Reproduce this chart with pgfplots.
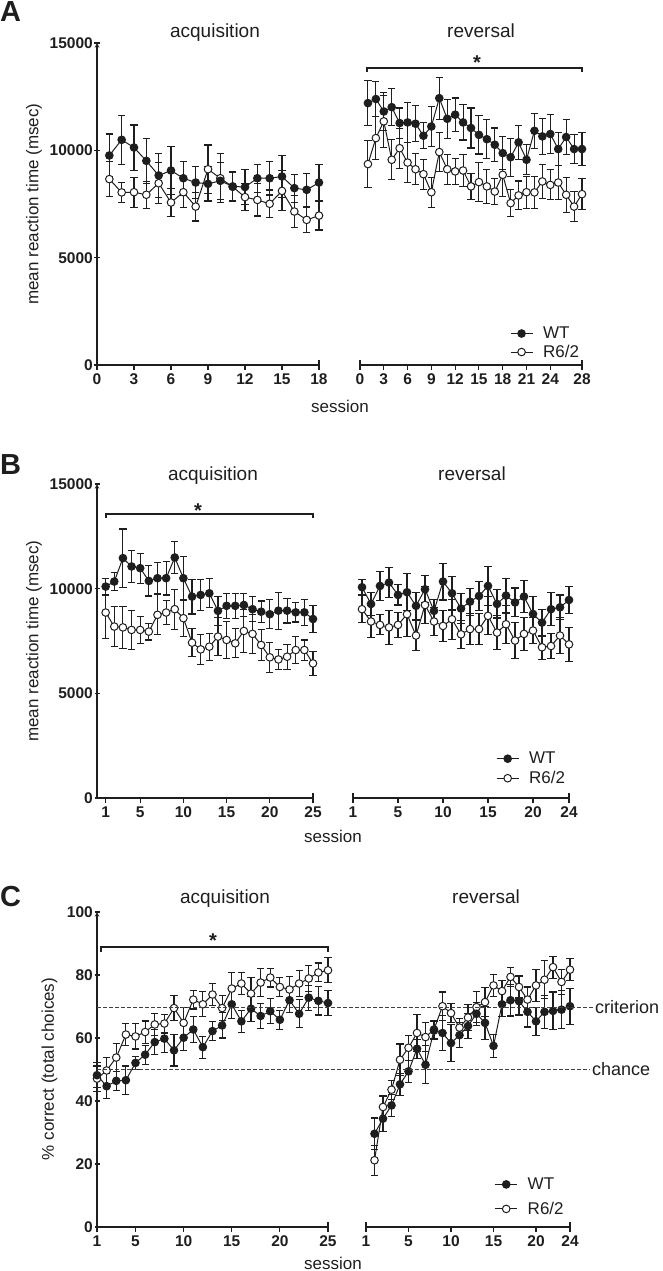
\documentclass[border=0pt]{standalone}
\usepackage{pgfplots}
\pgfplotsset{compat=1.18}
\usepackage{pgfplotstable}
\usepackage{fontspec}
\setmainfont{Liberation Sans}
\definecolor{ink}{RGB}{30,30,30}

\pgfplotstableread{
x w we r re
1 9760 1000 8660 800
2 10490 1150 8040 470
3 10130 1050 8050 700
4 9510 1050 7930 620
5 8830 1040 8470 960
6 9060 1100 7570 650
7 8700 800 8050 700
8 8500 750 7380 670
9 8440 800 9120 1130
10 8580 850 8700 1150
11 8320 700 8300 650
12 8290 800 7820 640
13 8700 650 7690 750
14 8700 780 7510 640
15 8780 960 8110 930
16 8240 650 7150 750
17 8160 780 6760 580
18 8500 850 6960 670
}\tabAacq

\pgfplotstableread{
x w we r re
1 12200 1060 9360 1090
2 12390 800 10570 1000
3 11810 900 11350 1200
4 12010 850 9560 930
5 11270 700 10100 930
6 11300 930 9430 930
7 11240 840 9120 730
8 10680 600 8890 700
9 11110 930 8050 700
10 12430 980 9920 900
11 11470 900 9120 700
12 11660 780 9020 620
13 11300 820 9060 750
14 11040 930 8320 600
15 10720 890 8520 900
16 10520 900 8320 780
17 10260 780 8080 620
18 9870 780 8860 1000
19 9680 890 7540 620
20 10370 780 7900 670
21 9560 700 8050 750
22 10910 820 8040 730
23 10650 850 8550 810
24 10760 900 8390 700
25 10060 750 8500 800
26 10620 810 7930 820
27 10060 670 7380 700
28 10060 750 7960 730
}\tabArev

\pgfplotstableread{
x w we r re
1 10100 400 8860 1250
2 10340 430 8190 960
3 11460 1390 8150 1000
4 11060 770 8030 930
5 10980 720 8030 640
6 10370 720 7950 400
7 10500 750 8750 960
8 10500 800 8860 590
9 11490 770 9020 960
10 10500 1040 8590 880
11 9620 830 7420 670
12 9700 750 7100 720
13 9780 690 7230 640
14 8940 700 7710 900
15 9180 600 7550 880
16 9180 600 7390 690
17 9220 560 7980 1040
18 9020 600 7840 930
19 8900 510 7310 720
20 8780 690 6720 720
21 8950 880 6620 480
22 8950 590 6750 600
23 8870 460 7070 640
24 8870 620 7070 480
25 8550 640 6430 560
}\tabBacq

\pgfplotstableread{
x w we r re
1 10070 350 9020 640
2 9270 540 8430 750
3 10130 690 8270 480
4 10290 720 8150 810
5 9700 480 8270 600
6 9830 880 8780 1070
7 9180 640 7760 720
8 9970 640 9220 880
9 8940 560 8430 670
10 10340 880 8220 750
11 9780 800 8540 960
12 9050 730 7820 670
13 9380 640 8070 730
14 9650 690 8070 730
15 10130 920 8700 910
16 9270 670 7900 800
17 9670 830 8300 910
18 9340 690 7520 850
19 9620 770 7840 800
20 8790 830 8000 610
21 8380 640 7200 580
22 9020 800 7260 590
23 9110 590 7760 850
24 9460 640 7340 800
}\tabBrev

\pgfplotstableread{
x w we r re
1 48.2 4 47.1 4
2 44.7 4 49.7 4
3 46.4 3 53.8 4.5
4 46.6 4.5 61.1 3.5
5 52.1 2 60.5 4
6 54.7 3 61.9 3.5
7 58.7 4 64.3 3.5
8 59.8 4.5 64.6 3
9 56.1 5 69.5 4
10 60.1 4 64.8 5
11 62.7 4 72.2 3
12 57.1 3.5 70.7 4
13 62.2 3 73.8 3.5
14 64.0 4 69.5 4
15 70.7 4.5 75.7 5
16 65.3 3.5 77.3 3.5
17 69.3 4 74.1 5
18 67.0 4 77.6 4.5
19 68.5 4 79.2 3
20 65.8 3 76.2 3
21 72.0 4 75.4 4
22 67.7 4.5 77.3 4
23 72.8 4 78.9 4
24 71.8 4.5 80.8 3
25 71.1 4 81.5 4
}\tabCacq

\pgfplotstableread{
x w we r re
1 29.6 5 21.2 4.8
2 34.4 4 38.1 3.5
3 38.6 3.5 43.6 3
4 45.3 3.5 53.1 5
5 49.4 3.5 56.9 4
6 56.6 3 61.6 6
7 51.5 6 60.3 4.5
8 62.4 3 62.7 3
9 61.6 5.5 70.1 4.5
10 58.4 5.8 67.9 3
11 60.9 4 63.3 3
12 63.8 4 66.5 4
13 67.7 3.7 69.8 5
14 64.8 5.3 71.4 4.5
15 57.5 3.7 76.7 3.5
16 70.7 4 74.9 3.5
17 72.0 5 79.4 3
18 71.7 4.4 76.2 3.5
19 68.3 4.8 72.2 4
20 65.3 4.4 76.7 5
21 68.3 5.3 78.5 6
22 68.6 6 82.5 3.5
23 69.0 6 77.8 4
24 70.1 5.7 81.7 3.5
}\tabCrev

\newcommand{\ttl}{\fontsize{19}{22}\selectfont}
\newcommand{\lbl}{\fontsize{17}{19}\selectfont}
\newcommand{\pl}{\bfseries\fontsize{29}{32}\selectfont}
\newcommand{\st}{\bfseries\fontsize{20}{22}\selectfont}

\pgfplotsset{
  base/.style={
    scale only axis, anchor=south west, clip=false, enlargelimits=false,
    scaled x ticks=false, scaled y ticks=false,
    axis x line=bottom,
    axis line style={-, line width=1.1pt, ink},
    tick align=outside, major tick length=5pt,
    tick style={line width=1.1pt, ink},
    xticklabel style={font=\bfseries\fontsize{15.5}{16}\selectfont, text=ink},
    yticklabel style={font=\bfseries\fontsize{15.5}{16}\selectfont, text=ink, inner sep=1.5pt},
    extra x tick style={tick align=center, major tick length=10pt},
    extra x tick labels={},
    reverse legend,
    legend cell align=left,
    legend image code/.code={\draw[mark repeat=2, mark phase=2, ##1] plot coordinates {(0pt,0pt) (11pt,0pt) (22pt,0pt)};},
  },
  leftax/.style={base, axis y line=left},
  rightax/.style={base, axis y line=none},
  leg/.style 2 args={legend style={draw=none, fill=none, at={(axis description cs:#1)}, anchor=north west,
    inner sep=0pt, row sep=#2, font=\lbl, text=ink, nodes={inner sep=1pt},
    /tikz/every odd column/.append style={column sep=9pt}}},
  wt/.style={ink, line width=1pt, mark=*, mark size=3.8pt,
    mark options={fill=ink, draw=ink, solid, line width=1pt},
    error bars/.cd, y dir=both, y explicit,
    error bar style={line width=1.1pt, ink},
    error mark options={rotate=90, mark size=3.6pt, line width=1.1pt, ink}},
  rt/.style={ink, line width=1pt, mark=*, mark size=3.8pt,
    mark options={fill=white, draw=ink, solid, line width=1pt},
    error bars/.cd, y dir=both, y explicit,
    error bar style={line width=1.1pt, ink},
    error mark options={rotate=90, mark size=3.6pt, line width=1.1pt, ink}},
}

\begin{document}
\begin{tikzpicture}
\path[use as bounding box] (0pt,0pt) rectangle (662pt,-1271pt);

% ---------------- Panel A ----------------
\begin{axis}[leftax, at={(97pt,-365pt)}, width=222pt, height=322pt,
  xmin=0, xmax=18, ymin=0, ymax=15000,
  xtick={0,3,6,9,12,15,18}, xticklabels={0,3,6,9,12,15,18},
  ytick={0,5000,10000,15000}, yticklabels={0,5000,10000,15000},
  extra x ticks={18}]
\addplot[rt] table[x=x, y=r, y error=re] {\tabAacq};
\addplot[wt] table[x=x, y=w, y error=we] {\tabAacq};
\end{axis}
\begin{axis}[rightax, at={(360pt,-365pt)}, width=222pt, height=322pt,
  xmin=0, xmax=28, ymin=0, ymax=15000,
  xtick={0,3,6,9,12,15,18,21,24,28}, xticklabels={0,3,6,9,12,15,18,21,24,28},
  extra x ticks={0,28},
  leg={0.675,0.122}{3pt}]
\addplot[rt] table[x=x, y=r, y error=re] {\tabArev};
\addlegendentry{R6/2}
\addplot[wt] table[x=x, y=w, y error=we] {\tabArev};
\addlegendentry{WT}
\end{axis}

% ---------------- Panel B ----------------
\begin{axis}[leftax, at={(97pt,-798pt)}, width=216pt, height=314pt,
  xmin=0, xmax=25, ymin=0, ymax=15000,
  xtick={1,5,10,15,20,25}, xticklabels={1,5,10,15,20,25},
  ytick={0,5000,10000,15000}, yticklabels={0,5000,10000,15000},
  extra x ticks={25}]
\addplot[rt] table[x=x, y=r, y error=re] {\tabBacq};
\addplot[wt] table[x=x, y=w, y error=we] {\tabBacq};
\end{axis}
\begin{axis}[rightax, at={(353pt,-798pt)}, width=216pt, height=314pt,
  xmin=0, xmax=24, ymin=0, ymax=15000,
  xtick={0,5,10,15,20,24}, xticklabels={1,5,10,15,20,24},
  extra x ticks={0,24},
  leg={0.662,0.150}{4pt}]
\addplot[rt] table[x=x, y=r, y error=re] {\tabBrev};
\addlegendentry{R6/2}
\addplot[wt] table[x=x, y=w, y error=we] {\tabBrev};
\addlegendentry{WT}
\end{axis}

% ---------------- Panel C ----------------
\begin{axis}[leftax, at={(97pt,-1227pt)}, width=231pt, height=315pt,
  xmin=1, xmax=25, ymin=0, ymax=100,
  xtick={1,5,10,15,20,25}, xticklabels={1,5,10,15,20,25},
  ytick={0,20,40,60,80,100}, yticklabels={0,20,40,60,80,100},
  extra x ticks={25}]
\addplot[rt] table[x=x, y=r, y error=re] {\tabCacq};
\addplot[wt] table[x=x, y=w, y error=we] {\tabCacq};
\end{axis}
\begin{axis}[rightax, at={(366pt,-1227pt)}, width=204pt, height=315pt,
  xmin=0, xmax=24, ymin=0, ymax=100,
  xtick={0,5,10,15,20,24}, xticklabels={1,5,10,15,20,24},
  extra x ticks={0,24},
  leg={0.630,0.160}{9pt}]
\addplot[rt] table[x=x, y=r, y error=re] {\tabCrev};
\addlegendentry{R6/2}
\addplot[wt] table[x=x, y=w, y error=we] {\tabCrev};
\addlegendentry{WT}
\end{axis}

% dashed reference lines
\draw[ink!85, line width=1pt, dash pattern=on 4pt off 2pt] (97pt,-1007.5pt) -- (593pt,-1007.5pt);
\draw[ink!85, line width=1pt, dash pattern=on 4pt off 2pt] (97pt,-1069pt) -- (590pt,-1069pt);
\node[anchor=west, inner sep=1pt, font=\fontsize{18}{20}\selectfont, text=ink] at (594pt,-1007.5pt) {criterion};
\node[anchor=west, inner sep=1pt, font=\fontsize{18}{20}\selectfont, text=ink] at (591pt,-1069pt) {chance};

% brackets and stars
\draw[ink, line width=1.1pt] (367pt,-72pt) -- (367pt,-68pt) -- (582pt,-68pt) -- (582pt,-72pt);
\node[anchor=base, inner sep=0pt, font=\st, text=ink] at (477pt,-70pt) {*};
\draw[ink, line width=1.1pt] (106pt,-518pt) -- (106pt,-514pt) -- (313pt,-514pt) -- (313pt,-518pt);
\node[anchor=base, inner sep=0pt, font=\st, text=ink] at (198pt,-517pt) {*};
\draw[ink, line width=1.1pt] (101pt,-952pt) -- (101pt,-947pt) -- (328pt,-947pt) -- (328pt,-952pt);
\node[anchor=base, inner sep=0pt, font=\st, text=ink] at (213pt,-947pt) {*};

% panel letters
\node[anchor=base west, inner sep=0pt, font=\pl, text=ink] at (0pt,-22pt) {A};
\node[anchor=base west, inner sep=0pt, font=\pl, text=ink] at (0pt,-474pt) {B};
\node[anchor=base west, inner sep=0pt, font=\pl, text=ink] at (0pt,-906pt) {C};

% titles
\node[anchor=base, inner sep=0pt, font=\ttl, text=ink] at (215pt,-38pt) {acquisition};
\node[anchor=base, inner sep=0pt, font=\ttl, text=ink] at (481pt,-38pt) {reversal};
\node[anchor=base, inner sep=0pt, font=\ttl, text=ink] at (213pt,-480pt) {acquisition};
\node[anchor=base, inner sep=0pt, font=\ttl, text=ink] at (472pt,-480pt) {reversal};
\node[anchor=base, inner sep=0pt, font=\ttl, text=ink] at (225pt,-903pt) {acquisition};
\node[anchor=base, inner sep=0pt, font=\ttl, text=ink] at (486pt,-903pt) {reversal};

% y labels
\node[rotate=90, inner sep=0pt, font=\lbl, text=ink] at (34pt,-204pt) {mean reaction time (msec)};
\node[rotate=90, inner sep=0pt, font=\lbl, text=ink] at (34pt,-641pt) {mean reaction time (msec)};
\node[rotate=90, inner sep=0pt, font=\lbl, text=ink] at (49.5pt,-1069pt) {\% correct (total choices)};

% x labels
\node[anchor=base, inner sep=0pt, font=\lbl, text=ink] at (340pt,-412pt) {session};
\node[anchor=base, inner sep=0pt, font=\lbl, text=ink] at (333pt,-842pt) {session};
\node[anchor=base, inner sep=0pt, font=\lbl, text=ink] at (333pt,-1269pt) {session};
\end{tikzpicture}
\end{document}
